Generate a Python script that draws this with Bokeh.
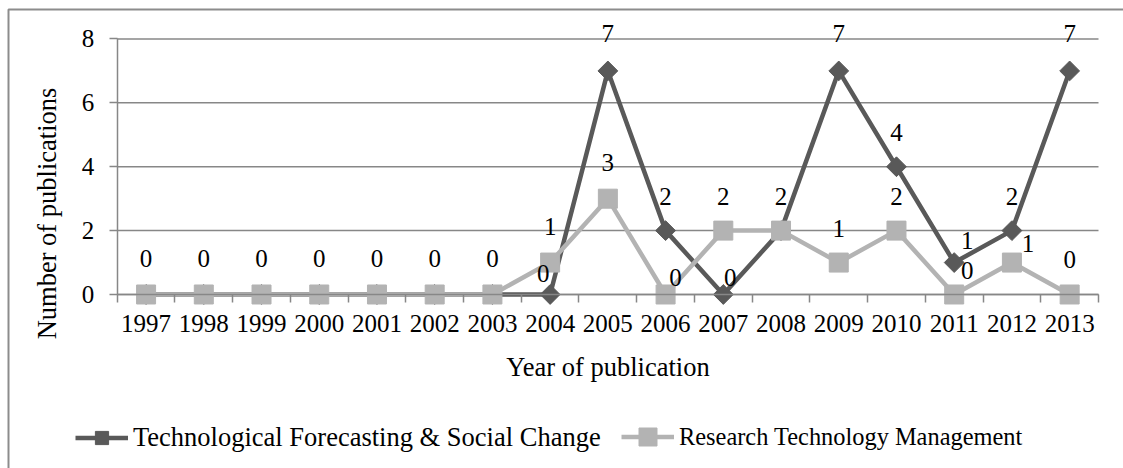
import math

from bokeh.core.properties import value
from bokeh.embed import file_html
from bokeh.models import (BoxAnnotation, ColumnDataSource, FixedTicker, Legend,
                          LegendItem, LinearAxis, Range1d)
from bokeh.plotting import figure
from bokeh.resources import INLINE

# ---- data -----------------------------------------------------------------
years = list(range(1997, 2014))
tfsc_counts = [0, 0, 0, 0, 0, 0, 0, 0, 7, 2, 0, 2, 7, 4, 1, 2, 7]
rtm_counts = [0, 0, 0, 0, 0, 0, 0, 1, 3, 0, 2, 2, 1, 2, 0, 1, 0]
series_names = ["Technological Forecasting & Social Change",
                "Research Technology Management"]
y_ticks = [0, 2, 4, 6, 8]

# ---- value-label placement (pixels: dx to the right, dy upward) -----------
tfsc_label_shown = [False] * 7 + [True] * 10
tfsc_label_dx = [0] * 7 + [-7, 0, 0, 7, 0, 0, 0, 13, 0, 0]
tfsc_label_dy = [34] * 7 + [21, 37, 34, 17, 34, 37, 34, 22, 34, 37]
rtm_label_shown = [True] * 11 + [False] + [True] * 5
rtm_label_dx = [0] * 9 + [10, 0, 0, 0, 0, 13, 16, 0]
rtm_label_dy = [36] * 9 + [17, 34, 34, 34, 34, 24, 19, 35]

FONT = "Liberation Serif"
DARK = "#595959"
LIGHT = "#b3b3b3"
AXIS_GREY = "#878787"

x_lo, x_hi = years[0] - 0.5, years[-1] + 0.5
y_lo, y_hi = y_ticks[0], y_ticks[-1]

# The frame fills the whole canvas; the plotting area is the [x_lo, x_hi] x
# [y_lo, y_hi] window inside it, and the axes are pinned to its edges.
p = figure(width=1123, height=468,
           x_range=Range1d(1994.478, 2013.933), y_range=Range1d(-5.448, 9.205),
           output_backend="svg", toolbar_location=None,
           x_axis_location=None, y_axis_location=None, min_border=0)
p.outline_line_color = None
p.background_fill_color = "white"
p.border_fill_color = "white"
p.grid.visible = False

# horizontal gridlines across the plotting area
p.segment(x0=[x_lo] * len(y_ticks), x1=[x_hi] * len(y_ticks), y0=y_ticks, y1=y_ticks,
          line_color=AXIS_GREY, line_width=1.5)


def style_axis(ax, tick_size="25px"):
    ax.axis_line_color = AXIS_GREY
    ax.axis_line_width = 1.5
    ax.major_label_text_font = FONT
    ax.major_label_text_font_size = tick_size
    ax.major_label_text_color = "black"
    ax.axis_label_text_font = FONT
    ax.axis_label_text_font_size = "26.5px"
    ax.axis_label_text_font_style = "normal"
    ax.axis_label_text_color = "black"


# x axis: year labels under each point, tick marks between categories
xa = LinearAxis(fixed_location=y_lo, bounds=(x_lo, x_hi))
style_axis(xa)
xa.ticker = FixedTicker(ticks=years, minor_ticks=[y - 0.5 for y in years] + [x_hi])
xa.major_tick_line_color = None
xa.major_tick_out = 8
xa.major_tick_in = 0
xa.minor_tick_out = 8
xa.minor_tick_in = 0
xa.minor_tick_line_color = AXIS_GREY
xa.minor_tick_line_width = 1.5
xa.major_label_standoff = 13
xa.axis_label = "Year of publication"
xa.axis_label_standoff = 16
p.add_layout(xa, "below")

# y axis: line, ticks and numbers
ya = LinearAxis(fixed_location=x_lo, bounds=(y_lo, y_hi))
style_axis(ya)
ya.ticker = FixedTicker(ticks=y_ticks)
ya.major_tick_out = 8
ya.major_tick_in = 0
ya.minor_tick_line_color = None
ya.major_tick_line_color = AXIS_GREY
ya.major_tick_line_width = 1.5
ya.major_label_standoff = 15
p.add_layout(ya, "left")

# y axis title, centred on the chart area rather than on the value span
ya_title = LinearAxis(fixed_location=x_lo, bounds=(y_lo - 2.93, y_hi))
style_axis(ya_title)
ya_title.ticker = FixedTicker(ticks=[])
ya_title.axis_line_color = None
ya_title.major_tick_line_color = None
ya_title.minor_tick_line_color = None
ya_title.major_tick_out = 0
ya_title.axis_label = "Number of publications"
ya_title.axis_label_standoff = 56
p.add_layout(ya_title, "left")

# ---- series ----------------------------------------------------------------
src = ColumnDataSource(dict(year=years, tfsc=tfsc_counts, rtm=rtm_counts))

tfsc_line = p.line("year", "tfsc", source=src, line_color=DARK, line_width=4.5,
                   line_join="round")
tfsc_pts = p.scatter("year", "tfsc", source=src, marker="square", angle=math.pi / 4,
                     size=14, fill_color=DARK, line_color=DARK)
rtm_line = p.line("year", "rtm", source=src, line_color=LIGHT, line_width=4.5,
                  line_join="round")
rtm_pts = p.scatter("year", "rtm", source=src, marker="square", size=19,
                    fill_color=LIGHT, line_color=LIGHT)

# ---- value labels ------------------------------------------------------------
lx, ly, lt, ldx, ldy = [], [], [], [], []
for counts, shown, dxs, dys in ((tfsc_counts, tfsc_label_shown, tfsc_label_dx, tfsc_label_dy),
                                (rtm_counts, rtm_label_shown, rtm_label_dx, rtm_label_dy)):
    for yr, c, s, dx, dy in zip(years, counts, shown, dxs, dys):
        if s:
            lx.append(yr)
            ly.append(c)
            lt.append(str(c))
            ldx.append(dx)
            ldy.append(-dy)
label_src = ColumnDataSource(dict(x=lx, y=ly, text=lt, dx=ldx, dy=ldy))
p.text("x", "y", text="text", x_offset="dx", y_offset="dy", source=label_src,
       text_align="center", text_baseline="middle", text_font=value(FONT),
       text_font_size="25px", text_color="black")

# ---- legend (one entry per series, side by side) -------------------------------
legend_common = dict(orientation="horizontal", label_text_font=FONT,
                     label_text_color="black", glyph_width=53, label_height=30,
                     label_standoff=5, padding=0, margin=0,
                     border_line_color=None, background_fill_alpha=0)
p.add_layout(Legend(items=[LegendItem(label=series_names[0],
                                      renderers=[tfsc_line, tfsc_pts])],
                    location=(75, 14), glyph_height=33, label_text_font_size="26.5px",
                    **legend_common))
p.add_layout(Legend(items=[LegendItem(label=series_names[1],
                                      renderers=[rtm_line, rtm_pts])],
                    location=(621, 9), glyph_height=45, label_text_font_size="24.4px",
                    **legend_common))

# chart-area border (left and top edges visible)
p.add_layout(BoxAnnotation(left=8, right=1140, top=459, bottom=-20,
                           left_units="screen", right_units="screen",
                           top_units="screen", bottom_units="screen",
                           fill_alpha=0, line_color="#8c8c8c", line_alpha=1,
                           line_width=2))

open("out.html", "w").write(file_html(p, INLINE))
